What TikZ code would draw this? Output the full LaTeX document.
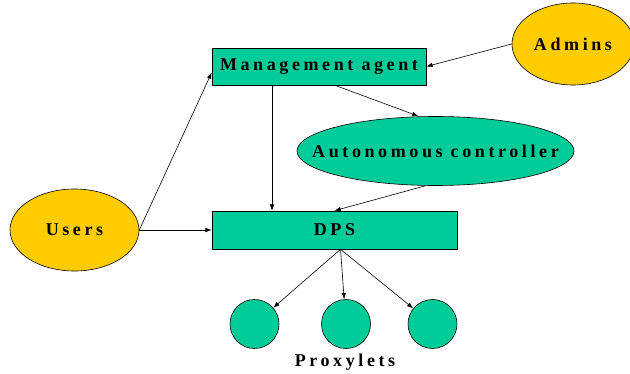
\documentclass[tikz,border=0pt]{standalone}
\usepackage{fontspec}
\setmainfont{Liberation Serif}[LetterSpace=20]
\usetikzlibrary{arrows.meta,shapes.geometric}
\definecolor{dpsgreen}{HTML}{00CC99}
\definecolor{actoryellow}{HTML}{FFCC00}
\tikzset{
  compbox/.style={draw=black,rectangle,fill=dpsgreen,line width=0.6pt,
    inner sep=0pt,font=\fontsize{18}{20}\selectfont\bfseries},
  actorellipse/.style={draw=black,ellipse,fill=actoryellow,line width=0.6pt,
    inner sep=0pt,font=\fontsize{18}{20}\selectfont\bfseries},
  flowarrow/.style={draw=black,line width=0.6pt,-{Latex[length=2.2mm,width=1.6mm]}},
}

\begin{document}
\begin{tikzpicture}[x=1pt,y=-1pt,
        proxyletnode/.style={draw=black,circle,fill=dpsgreen,line width=0.6pt,
          minimum size=49pt,inner sep=0pt}]
        \useasboundingbox (0,0) rectangle (630,374);
        % components
        \node[compbox,minimum width=214pt,minimum height=37pt] (mgmt) at (319,66.5) {Management agent};
        \node[compbox,minimum width=245pt,minimum height=38pt] (dps) at (334.5,230) {DPS};
        \node[compbox,ellipse,minimum width=277pt,minimum height=69pt,
          label={[font=\fontsize{18}{20}\selectfont\bfseries]center:Autonomous controller}] (auto) at (435.5,151) {};
        % actors
        \node[actorellipse,minimum width=122pt,minimum height=82pt] (admins) at (573,44) {Admins};
        \node[actorellipse,minimum width=129pt,minimum height=82pt] (users) at (74.5,230) {Users};
        % proxylets
        \node[proxyletnode] (p1) at (254.5,324) {};
        \node[proxyletnode] (p2) at (346,324) {};
        \node[proxyletnode] (p3) at (432.5,324) {};
        \node[font=\fontsize{18}{20}\selectfont\bfseries] (proxylets) at (345,362) {Proxylets};
        % connectors
        \draw[flowarrow] (admins.west) -- (mgmt.east);
        \draw[flowarrow] (users.east) -- ([yshift=-6pt]mgmt.west);
        \draw[flowarrow] (users.east) -- (dps.west);
        \draw[flowarrow] ([xshift=-47pt]mgmt.south) -- ([xshift=-62.5pt]dps.north);
        \draw[flowarrow] ([xshift=16pt]mgmt.south) -- ([xshift=-17pt]auto.north);
        \draw[flowarrow] ([xshift=-10pt]auto.south) -- (dps.north);
        \draw[flowarrow] ([xshift=6pt]dps.south) -- (p1);
        \draw[flowarrow] ([xshift=6pt]dps.south) -- (p2);
        \draw[flowarrow] ([xshift=6pt]dps.south) -- (p3);
      \end{tikzpicture}
\end{document}
